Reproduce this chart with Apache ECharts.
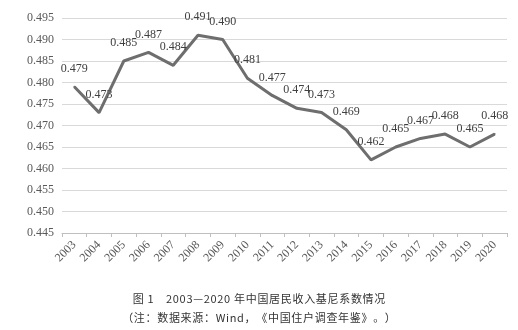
<!DOCTYPE html>
<html><head><meta charset="utf-8">
<script src="https://cdn.jsdelivr.net/npm/echarts@6/dist/echarts.min.js"></script>
<style>html,body{margin:0;padding:0;background:#fff}#c{width:518px;height:330px}</style>
</head><body><div id="c"></div>
<script>
const years = ['2003','2004','2005','2006','2007','2008','2009','2010','2011','2012','2013','2014','2015','2016','2017','2018','2019','2020'];
const gini = [0.479,0.473,0.485,0.487,0.484,0.491,0.490,0.481,0.477,0.474,0.473,0.469,0.462,0.465,0.467,0.468,0.465,0.468];
const titleText = '图 1　2003—2020 年中国居民收入基尼系数情况';
const noteText = '（注：数据来源：Wind，《中国住户调查年鉴》。）';
const spaced = s => Array.from(s).join('\u200A');
const serif = '"Liberation Serif","DejaVu Serif",serif';
const chart = echarts.init(document.getElementById('c'), null, {renderer:'canvas'});
chart.setOption({
  animation:false,
  grid:{left:62,right:11,top:18,bottom:97},
  graphic:[
    {type:'text',left:'center',top:293,style:{text:spaced(titleText),font:'11px "Noto Sans CJK SC"',fill:'#333'}},
    {type:'text',left:'center',top:312,style:{text:spaced(noteText),font:'11px "Noto Sans CJK SC"',fill:'#333'}}
  ],
  xAxis:{type:'category',data:years,boundaryGap:true,
    axisLine:{lineStyle:{color:'#bfbfbf'}},
    axisTick:{show:true,lineStyle:{color:'#bfbfbf'},length:4},
    axisLabel:{rotate:45,color:'#595959',fontFamily:serif,fontSize:12,margin:10,interval:0}},
  yAxis:{type:'value',min:0.445,max:0.495,interval:0.005,
    axisLine:{show:false},axisTick:{show:false},
    splitLine:{lineStyle:{color:'#d9d9d9'}},
    axisLabel:{color:'#595959',fontFamily:serif,fontSize:12,margin:8,formatter:v=>v.toFixed(3)}},
  series:[{type:'line',data:gini,symbol:'circle',symbolSize:2,showSymbol:true,showAllSymbol:true,
    itemStyle:{color:'#6e6e6e'},
    lineStyle:{color:'#6e6e6e',width:3},
    labelLayout:{hideOverlap:false},
    label:{show:true,position:'top',distance:11,color:'#404040',fontFamily:serif,fontSize:12,formatter:p=>p.value.toFixed(3)}}]
});
</script></body></html>
